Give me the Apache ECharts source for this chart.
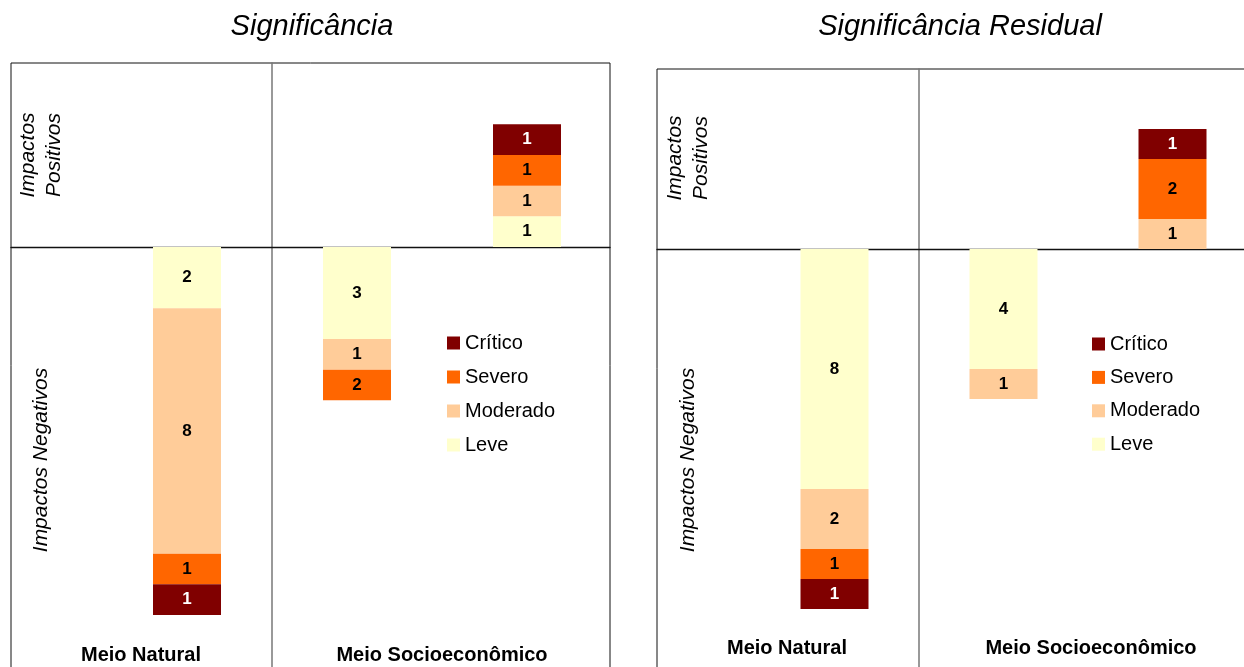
<!DOCTYPE html>
<html>
<head>
<meta charset="utf-8">
<script src="https://cdn.jsdelivr.net/npm/echarts@6/dist/echarts.min.js"></script>
<style>
html,body{margin:0;padding:0;background:#fff;}
#chart{width:1244px;height:667px;}
</style>
</head>
<body>
<div id="chart"></div>
<script>
// ---------- data ----------
const levels = ['Leve', 'Moderado', 'Severo', 'Crítico'];        // stacking order from the axis outwards
const legendOrder = ['Crítico', 'Severo', 'Moderado', 'Leve'];
const barSlots = ['Meio Natural (negativos)', 'Meio Socioeconômico (negativos)', 'Meio Socioeconômico (positivos)'];
const panelTitles = ['Significância', 'Significância Residual'];
const columnLabels = ['Meio Natural', 'Meio Socioeconômico'];
const rowLabels = ['Impactos\nPositivos', 'Impactos Negativos'];

// negative values = Impactos Negativos, positive = Impactos Positivos
const sigLeve     = [-2, -3, 1];
const sigModerado = [-8, -1, 1];
const sigSevero   = [-1, -1, 1];
const sigCritico  = [-1, 0, 1];
const sigSeveroLabels = ['1', '2', '1'];   // label printed in the picture (bar drawn one unit tall)

const resLeve     = [-8, -4, 0];
const resModerado = [-2, -1, 1];
const resSevero   = [-1, 0, 2];
const resCritico  = [-1, 0, 1];

const yMin = -15, yMax = 6;

// ---------- style ----------
const colors = { 'Crítico': '#800000', 'Severo': '#FF6600', 'Moderado': '#FFCC99', 'Leve': '#FFFFCC' };
const FONT = '"Liberation Sans", Arial, Helvetica, sans-serif';

const panelData = [
  { 'Leve': sigLeve, 'Moderado': sigModerado, 'Severo': sigSevero, 'Crítico': sigCritico },
  { 'Leve': resLeve, 'Moderado': resModerado, 'Severo': resSevero, 'Crítico': resCritico }
];
const panelLabels = [{ 'Severo': sigSeveroLabels }, {}];

const layout = [
  { frameLeft: 11, frameWidth: 599, top: 63, height: 644, xMin: -1.535, xMax: 1.988,
    barLeft: 102, barWidthGrid: 510, legendLeft: 447, legendTop: 333, legendGap: 14,
    titleX: 312, titleY: 27, rowX: 41, posY: 155, negX: 41, negY: 460,
    colX: [141, 442], colY: 655 },
  { frameLeft: 657, frameWidth: 606, top: 69, height: 630, xMin: -1.550, xMax: 2.036,
    barLeft: 750, barWidthGrid: 507, legendLeft: 1092, legendTop: 334, legendGap: 13.4,
    titleX: 960, titleY: 27, rowX: 688, posY: 158, negX: 688, negY: 460,
    colX: [787, 1091], colY: 648 }
];

const grid = [], xAxis = [], yAxis = [], series = [], legend = [], graphic = [];

layout.forEach((L, p) => {
  const fIdx = grid.length;
  grid.push({ left: L.frameLeft, top: L.top, width: L.frameWidth, height: L.height,
              outerBoundsMode: 'none', containLabel: false,
              show: true, borderColor: '#111', borderWidth: 1, backgroundColor: 'transparent' });
  const bIdx = grid.length;
  grid.push({ left: L.barLeft, top: L.top, width: L.barWidthGrid, height: L.height,
              outerBoundsMode: 'none', containLabel: false, show: false });

  xAxis.push({ type: 'value', gridIndex: fIdx, min: L.xMin, max: L.xMax,
    axisLine: { show: true, onZero: true, lineStyle: { color: '#111', width: 1.3 } },
    axisTick: { show: false }, axisLabel: { show: false }, splitLine: { show: false } });
  yAxis.push({ type: 'value', gridIndex: fIdx, min: yMin, max: yMax,
    axisLine: { show: true, onZero: true, lineStyle: { color: '#777', width: 1.5 } },
    axisTick: { show: false }, axisLabel: { show: false }, splitLine: { show: false } });

  xAxis.push({ type: 'category', gridIndex: bIdx, data: barSlots, show: false });
  yAxis.push({ type: 'value', gridIndex: bIdx, min: yMin, max: yMax, show: false, splitLine: { show: false } });

  levels.forEach(lv => {
    const labels = panelLabels[p][lv];
    series.push({
      type: 'bar', name: lv, xAxisIndex: bIdx, yAxisIndex: bIdx, stack: 'panel' + p,
      barWidth: 68, data: panelData[p][lv],
      itemStyle: { color: colors[lv] },
      label: {
        show: true, position: 'inside',
        color: lv === 'Crítico' ? '#ffffff' : '#000000',
        fontFamily: FONT, fontWeight: 'bold', fontSize: 17,
        formatter: prm => prm.value === 0 ? '' : (labels ? labels[prm.dataIndex] : String(Math.abs(prm.value)))
      },
      emphasis: { disabled: true },
      animation: false
    });
  });

  legend.push({
    orient: 'vertical', left: L.legendLeft, top: L.legendTop, padding: 0,
    itemWidth: 13, itemHeight: 13, itemGap: L.legendGap, icon: 'rect',
    selectedMode: false, data: legendOrder,
    textStyle: { fontFamily: FONT, fontSize: 20, color: '#000', lineHeight: 20 }
  });

  graphic.push({ type: 'text', x: L.titleX, y: L.titleY, silent: true,
    style: { text: panelTitles[p], font: 'italic 29px ' + FONT, fill: '#000', align: 'center', verticalAlign: 'middle' } });
  graphic.push({ type: 'text', x: L.rowX, y: L.posY, rotation: Math.PI / 2, silent: true,
    style: { text: rowLabels[0], font: 'italic 21px ' + FONT, lineHeight: 26, fill: '#000', align: 'center', verticalAlign: 'middle' } });
  graphic.push({ type: 'text', x: L.negX, y: L.negY, rotation: Math.PI / 2, silent: true,
    style: { text: rowLabels[1], font: 'italic 21px ' + FONT, fill: '#000', align: 'center', verticalAlign: 'middle' } });
  columnLabels.forEach((c, i) => {
    graphic.push({ type: 'text', x: L.colX[i], y: L.colY, silent: true,
      style: { text: c, font: 'bold 20px ' + FONT, fill: '#000', align: 'center', verticalAlign: 'middle' } });
  });
});

const chart = echarts.init(document.getElementById('chart'), null, { renderer: 'canvas' });
chart.setOption({
  backgroundColor: '#ffffff',
  animation: false,
  grid, xAxis, yAxis, series, legend, graphic
});
</script>
</body>
</html>
